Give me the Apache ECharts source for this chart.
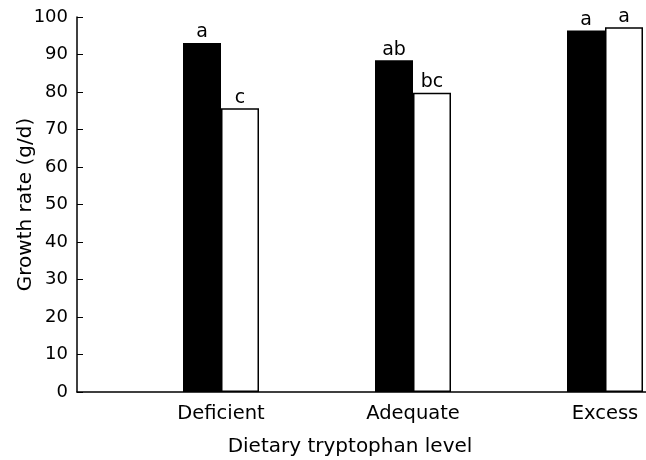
<!DOCTYPE html>
<html>
<head>
<meta charset="utf-8">
<title>Growth rate</title>
<script src="https://cdn.jsdelivr.net/npm/echarts@6/dist/echarts.min.js"></script>
<style>
  html, body { margin: 0; padding: 0; background: #fff; }
  #chart { width: 646px; height: 460px; }
</style>
</head>
<body>
<div id="chart"></div>
<script>
// data
var categories = ['Deficient', 'Adequate', 'Excess'];
var blackValues = [93.1, 88.5, 96.4];
var whiteValues = [75.7, 79.8, 97.3];
var blackLetters = ['a', 'ab', 'a'];
var whiteLetters = ['c', 'bc', 'a'];
var yTicks = [0, 100, 10]; // min, max, step

// the axis has an empty slot before every group
var slots = [], blackData = [], whiteData = [];
categories.forEach(function (c, i) {
    slots.push('', c);
    blackData.push('-', blackValues[i]);
    whiteData.push('-', whiteValues[i]);
});

function letterOf(list) {
    return function (p) { return list[categories.indexOf(p.name)]; };
}

var font = 'DejaVu Sans';
var chart = echarts.init(document.getElementById('chart'));
chart.setOption({
    animation: false,
    // plot runs a little past the right edge of the page, as in the scan
    grid: { left: 77, right: -7, top: 17, bottom: 68, outerBoundsMode: 'none' },
    xAxis: {
        type: 'category',
        data: slots,
        name: 'Dietary tryptophan level',
        nameLocation: 'middle',
        nameGap: 45,
        nameTextStyle: { color: '#000', fontFamily: font, fontSize: 20, padding: [0, 30, 0, 0] },
        axisLine: { lineStyle: { color: '#000', width: 1.5 } },
        axisTick: { inside: true, length: 5, interval: 0, lineStyle: { color: '#000' } },
        axisLabel: { interval: 0, margin: 12, color: '#000', fontFamily: font, fontSize: 19.5 },
        splitLine: { show: false }
    },
    yAxis: {
        type: 'value',
        min: yTicks[0], max: yTicks[1], interval: yTicks[2],
        name: 'Growth rate (g/d)',
        nameLocation: 'middle',
        nameGap: 41,
        nameMoveOverlap: false,
        nameTextStyle: { color: '#000', fontFamily: font, fontSize: 20 },
        axisLine: { show: true, lineStyle: { color: '#000', width: 1.5 } },
        axisTick: { show: true, inside: true, length: 6, lineStyle: { color: '#000' } },
        axisLabel: { margin: 9, color: '#000', fontFamily: font, fontSize: 18 },
        splitLine: { show: false }
    },
    series: [
        {
            type: 'bar', data: blackData, barWidth: 38, barGap: '0%',
            itemStyle: { color: '#000' },
            label: { show: true, position: 'top', distance: 1, color: '#000', fontFamily: font, fontSize: 19, formatter: letterOf(blackLetters) }
        },
        {
            type: 'bar', data: whiteData, barWidth: 38,
            itemStyle: { color: '#fff', borderColor: '#000', borderWidth: 1.5 },
            label: { show: true, position: 'top', distance: 1, color: '#000', fontFamily: font, fontSize: 19, formatter: letterOf(whiteLetters) }
        }
    ]
});
</script>
</body>
</html>
